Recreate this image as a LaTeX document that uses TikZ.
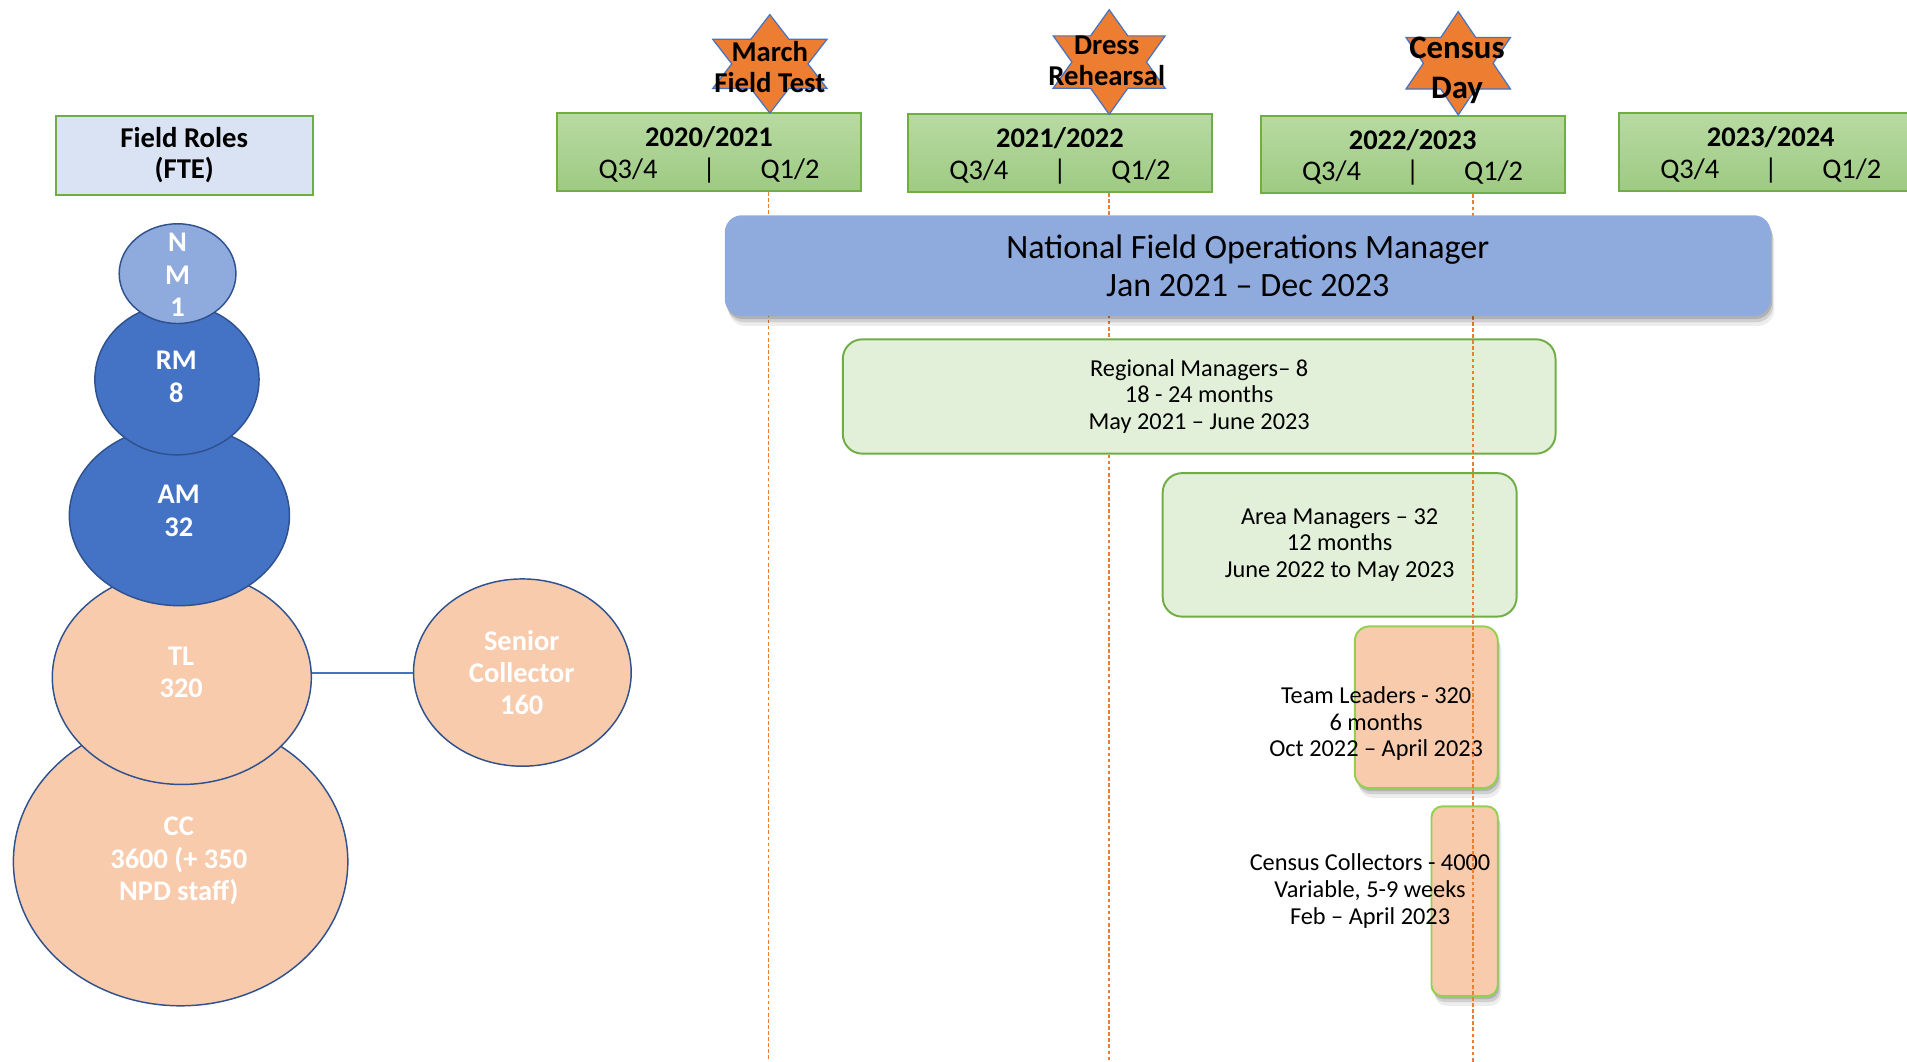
\documentclass[tikz,border=0pt]{standalone}
\usepackage{fontspec}
\setmainfont{Carlito}
\usetikzlibrary{shapes.geometric,shadows}

\definecolor{fieldblue}{HTML}{DAE3F3}
\definecolor{boxgreen}{HTML}{70AD47}
\definecolor{lightgreen}{HTML}{92D050}
\definecolor{yeartop}{HTML}{B8DAA2}
\definecolor{yearbot}{HTML}{9ECA82}
\definecolor{nfomblue}{HTML}{8FAADC}
\definecolor{roleblue}{HTML}{4472C4}
\definecolor{rimblue}{HTML}{2F528F}
\definecolor{palegreen}{HTML}{E2F0D9}
\definecolor{peach}{HTML}{F8CBAD}
\definecolor{starorange}{HTML}{ED7D31}

\tikzset{
  fieldbox/.style={draw=boxgreen, line width=0.8pt, fill=fieldblue, minimum width=105.5pt, minimum height=32.5pt, inner sep=0pt, align=center, font=\fontsize{11.8}{13}\selectfont\bfseries},
  yearbox/.style={draw=boxgreen, line width=0.8pt, top color=yeartop, bottom color=yearbot, minimum width=125pt, minimum height=32pt, inner sep=0pt, align=center, font=\fontsize{11.7}{13}\selectfont},
  startext/.style={align=center, font=\fontsize{11.8}{13}\selectfont\bfseries},
  starshape/.style={draw=roleblue, line width=0.5pt, fill=starorange},
  milestone/.style={draw=starorange, line width=0.6pt, dash pattern=on 1.5pt off 1pt},
  role/.style={ellipse, draw=rimblue, line width=0.6pt, inner sep=0pt},
  roletext/.style={align=center, text=white, font=\fontsize{11.7}{13.3}\selectfont\bfseries},
  phase/.style={rounded corners=8pt, draw=boxgreen, line width=0.8pt, fill=palegreen, inner sep=0pt, align=center, font=\fontsize{10}{11}\selectfont},
  softshadow/.style={drop shadow={shadow xshift=1.5pt, shadow yshift=-4pt, opacity=0.07, fill=black},
    drop shadow={shadow xshift=1pt, shadow yshift=-2.5pt, opacity=0.12, fill=black},
    drop shadow={shadow xshift=0.5pt, shadow yshift=-1.2pt, opacity=0.15, fill=black}},
  fieldphase/.style={rounded corners=6pt, draw=lightgreen, line width=0.8pt, fill=peach, inner sep=0pt, softshadow},
  phasetext/.style={align=center, font=\fontsize{10}{11}\selectfont},
}

\newcommand{\halfyears}{Q3/4\hspace{18.5pt}|\hspace{18.5pt}Q1/2}
\newcommand{\yearline}[1]{\rule{0pt}{10.5pt}\textbf{#1}\\\halfyears}
% six pointed star: centre x, centre y, half width, half height
\newcommand{\milestar}[4]{
  \draw[starshape] ({#1},{#2-#4}) -- ({#1+#3/3},{#2-#4/2}) -- ({#1+#3},{#2-#4/2}) -- ({#1+2*#3/3},{#2})
    -- ({#1+#3},{#2+#4/2}) -- ({#1+#3/3},{#2+#4/2}) -- ({#1},{#2+#4}) -- ({#1-#3/3},{#2+#4/2})
    -- ({#1-#3},{#2+#4/2}) -- ({#1-2*#3/3},{#2}) -- ({#1-#3},{#2-#4/2}) -- ({#1-#3/3},{#2-#4/2}) -- cycle;
}

\begin{document}
\begin{tikzpicture}[x=0.5pt,y=-0.5pt]
\clip (0,0) rectangle (1568,873);

\coordinate (mft-foot) at (632,873);
\coordinate (dr-foot) at (912,873);
\coordinate (cd-foot) at (1211,873);

\node[fieldbox] (roles) at (151.5,127.5) {Field Roles\\(FTE)};

\node[yearbox] (y1) at (583,125) {\yearline{2020/2021}};
\node[yearbox] (y2) at (871.5,126) {\yearline{2021/2022}};
\node[yearbox] (y3) at (1161.5,127) {\yearline{2022/2023}};
\node[yearbox] (y4) at (1456,125) {\yearline{2023/2024}};

\draw[milestone] (mft-foot |- y1.south) -- (mft-foot);
\draw[milestone] (dr-foot |- y2.south) -- (dr-foot);

\milestar{633}{52.5}{47}{40.5}
\node[startext] (mft) at (633,55) {March\\Field Test};
\milestar{912}{51}{46}{43}
\node[startext] (dr) at (910,50) {Dress\\Rehearsal};
\milestar{1199}{52}{43}{42.5}
\node[startext, font=\fontsize{13.5}{16.5}\selectfont\bfseries] (cd) at (1198,58) {Census\\Day};

% FTE circles, widest at the bottom
\node[role, fill=peach, minimum width=137.5pt, minimum height=118.5pt] (cc) at (148.5,708.5) {};
\node[role, fill=peach, minimum width=106.5pt, minimum height=88pt] (tl) at (149.5,557) {};
\node[role, fill=roleblue, minimum width=90.5pt, minimum height=74pt] (am) at (147.5,424) {};
\node[role, fill=roleblue, minimum width=67.5pt, minimum height=62pt] (rm) at (145.5,312) {};
\node[role, fill=nfomblue, minimum width=48pt, minimum height=41pt] (nm) at (146,225) {};
\node[role, fill=peach, minimum width=89.5pt, minimum height=77pt] (sc) at (429.5,553) {};
\draw[roleblue, line width=0.8pt] (sc.west) -- (sc.west -| tl.east);

\node[roletext] (nm-txt) at (146,226) {N\\M\\1};
\node[roletext] (rm-txt) at (145,310) {RM\\8};
\node[roletext] (am-txt) at (147,420) {AM\\32};
\node[roletext] (tl-txt) at (149,553) {TL\\320};
\node[roletext] (cc-txt) at (147,708) {CC\\3600 (+ 350\\NPD staff)};
\node[roletext] (sc-txt) at (429,553) {Senior\\Collector\\160};

% duration bars
\node[phase, minimum width=293pt, minimum height=47pt] (rmbar) at (986,326) {Regional Managers– 8\\18 - 24 months\\May 2021 – June 2023};
\node[phase, minimum width=145.5pt, minimum height=59pt] (ambar) at (1101.5,448) {Area Managers – 32\\12 months\\June 2022 to May 2023};
\node[fieldphase, minimum width=58.75pt, minimum height=66.5pt] (tlbar) at (1172.75,581.5) {};
\node[phasetext] (tlbar-txt) at (1131.5,595) {Team Leaders - 320\\6 months\\Oct 2022 – April 2023};
\node[fieldphase, rounded corners=4.5pt, minimum width=27.25pt, minimum height=78pt] (ccbar) at (1204.25,741) {};
\node[phasetext] (ccbar-txt) at (1126.5,732.5) {Census Collectors - 4000\\Variable, 5-9 weeks\\Feb – April 2023};

\draw[milestone] (cd-foot |- y3.south) -- (cd-foot);

\node[rounded corners=7pt, fill=nfomblue, minimum width=430pt, minimum height=41.5pt, inner sep=0pt, align=center,
  font=\fontsize{14}{15.5}\selectfont, softshadow]
  (nfom) at (1026,218.5) {National Field Operations Manager\\Jan 2021 – Dec 2023};
\end{tikzpicture}
\end{document}
